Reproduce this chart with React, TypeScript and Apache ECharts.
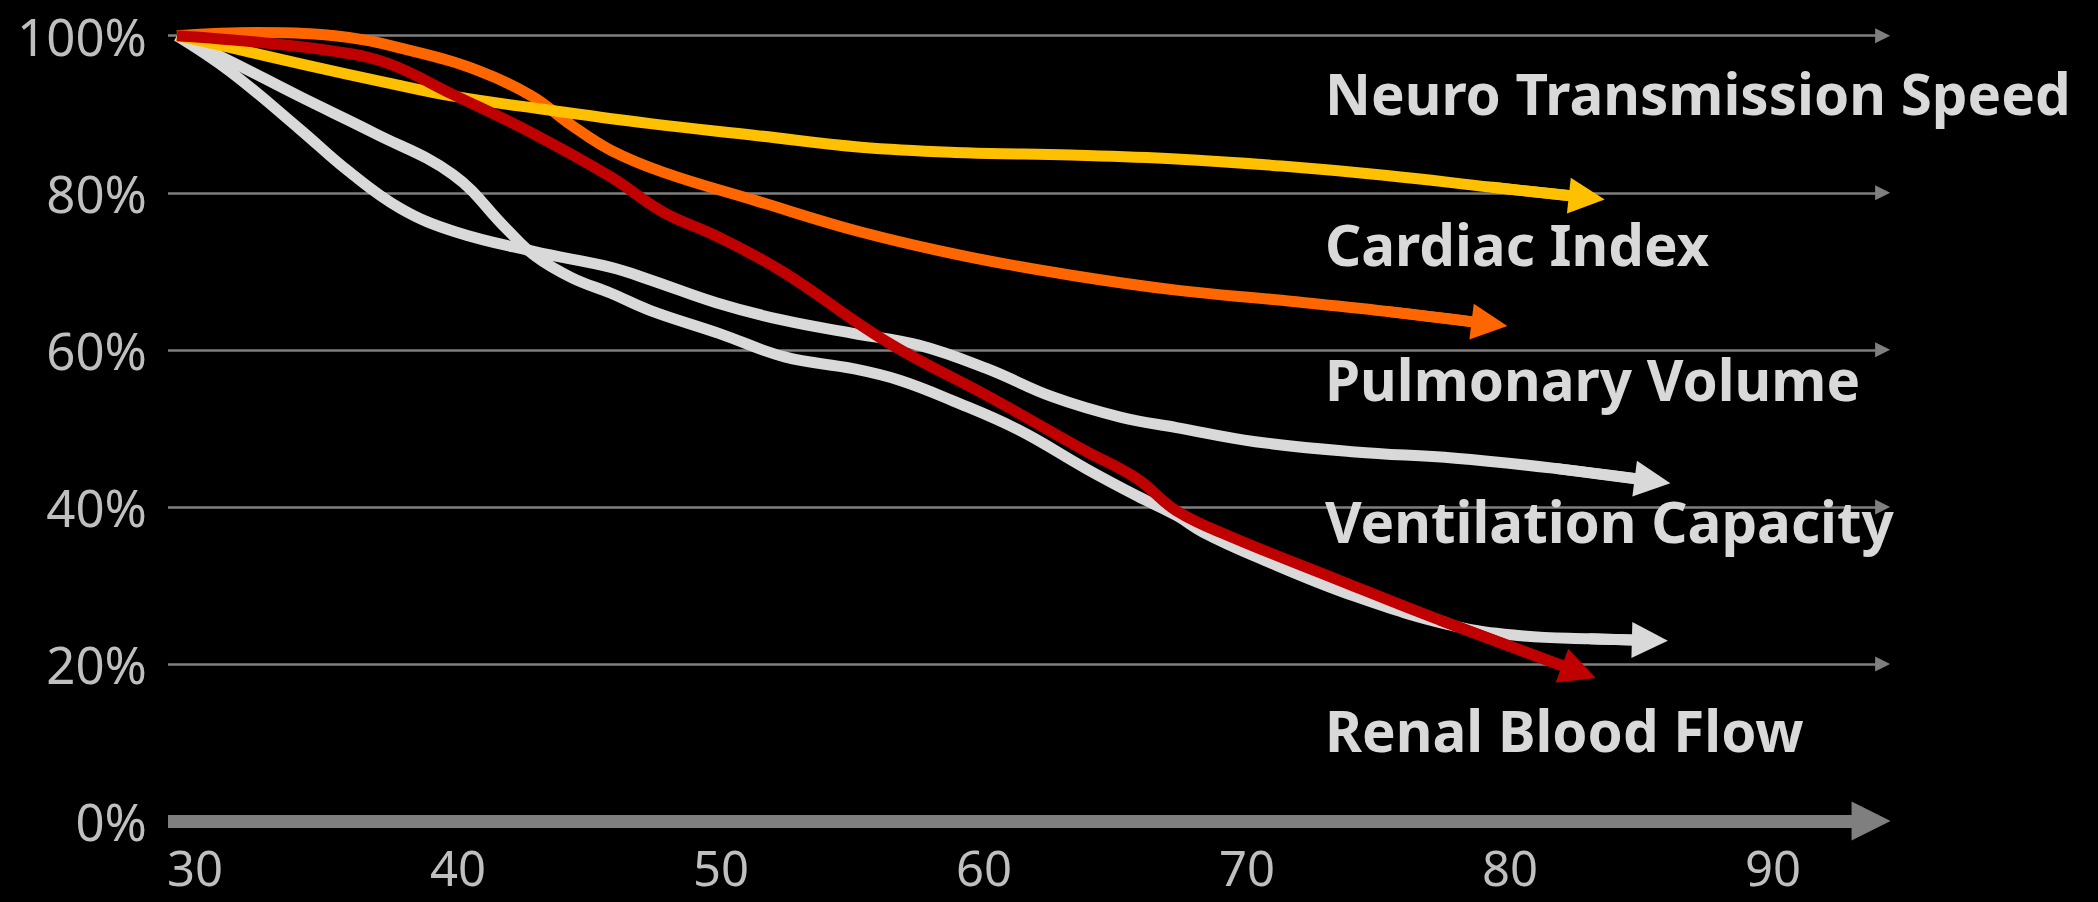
import React, { useEffect, useRef } from "react";
import * as echarts from "echarts";

// ---- data (age in years, value in % of age-30 level) ----
const xTickLabels = [30, 40, 50, 60, 70, 80, 90];
const yTickValues = [0, 20, 40, 60, 80, 100];

const neuroAges = [30, 32, 35, 38, 40.5, 44, 48, 52, 56, 60, 64, 68, 72, 76, 80, 83.6];
const neuroValues = [100, 98.5, 96.2, 94.0, 92.3, 90.6, 88.8, 87.3, 85.8, 85.1, 84.8, 84.3, 83.4, 82.2, 80.7, 79.4];

const cardiacAges = [30, 33, 36, 39, 41.5, 43.5, 45, 46.5, 48.5, 52, 56, 60, 64, 68, 72, 76, 79.9];
const cardiacValues = [100, 100.4, 100, 98, 95.5, 92.3, 88.6, 85.4, 82.6, 79, 75, 71.9, 69.5, 67.6, 66.3, 64.9, 63.3];

const pulmonaryAges = [30, 32, 34.7, 36.5, 38.5, 40.6, 43.6, 46.5, 48, 50.5, 53, 55.7, 58.2, 60.8, 63.3, 65.9, 68, 71, 74.8, 78.6, 82.4, 86.1];
const pulmonaryValues = [100, 95.5, 88, 82.8, 78, 75.0, 72.5, 70.5, 68.9, 66.0, 63.8, 62.1, 60.6, 57.6, 54.0, 51.4, 50.1, 48.3, 47.0, 46.2, 44.9, 43.3];

const ventilationAges = [30, 32, 34.7, 37.5, 40.5, 42.5, 43.6, 45, 46.5, 48, 50.6, 53.1, 55.7, 57.5, 59.5, 62, 64.6, 66.5, 68, 69, 71, 74.8, 78.6, 81.1, 83.7, 86];
const ventilationValues = [100, 96.8, 92.2, 87.6, 82.3, 75.5, 72.0, 69.2, 67.2, 65.0, 62.1, 59.1, 57.6, 56.1, 53.5, 49.8, 44.8, 41.4, 38.9, 36.8, 33.7, 28.6, 24.8, 23.6, 23.2, 23.0];

const renalAges = [30, 33, 36, 38, 40.5, 43.5, 46.5, 48.5, 50.5, 53, 57, 61, 64.5, 66.5, 68, 70, 74, 78, 83.3];
const renalValues = [100, 99.2, 98, 96.5, 92.5, 87.6, 82, 77.5, 74.5, 70, 61, 53.8, 47.2, 43.6, 39.5, 36.3, 30.9, 25.6, 19.0];

const seriesNames = [
  "Neuro Transmission Speed",
  "Cardiac Index",
  "Pulmonary Volume",
  "Ventilation Capacity",
  "Renal Blood Flow",
];

// ---- layout / style ----
const X_MIN = 29.658;
const X_MAX = 95.13;
const GRID_END = 94.85; // small arrow centres of grid lines
const AXIS_END = 94.41; // big arrow centre of x axis
const FONT = "Noto Sans";

const zip = (xs: number[], ys: number[]) => xs.map((x, i) => [x, ys[i]]);

function curve(name: string, ages: number[], vals: number[], color: string, z: number) {
  const n = ages.length;
  return {
    name,
    type: "line",
    data: zip(ages, vals),
    smooth: 0.4,
    showSymbol: false,
    symbol: "none",
    clip: false,
    z,
    silent: true,
    lineStyle: { color, width: 11, cap: "butt", join: "round" },
    markLine: {
      silent: true,
      z,
      symbol: ["none", "triangle"],
      symbolSize: 36,
      label: { show: false },
      emphasis: { disabled: true },
      lineStyle: { color, width: 11, type: "solid", opacity: 1 },
      data: [[{ coord: [ages[n - 2], vals[n - 2]] }, { coord: [ages[n - 1], vals[n - 1]] }]],
    },
  };
}

const labelY = [93, 244, 379, 521, 730];

export default function App() {
  const ref = useRef<HTMLDivElement>(null);
  useEffect(() => {
    document.body.style.margin = "0";
    const chart = echarts.init(ref.current!, undefined, { renderer: "svg" });
    const option: any = {
      animation: false,
      backgroundColor: "#000000",
      grid: { left: 168, right: 208, top: 35.7, bottom: 81 },
      xAxis: {
        type: "value",
        min: X_MIN,
        max: X_MAX,
        axisLine: { show: false },
        axisTick: { show: false },
        splitLine: { show: false },
        axisLabel: {
          customValues: xTickLabels,
          color: "#bfbfbf",
          fontFamily: FONT,
          fontSize: 49,
          lineHeight: 30,
          margin: 31,
          padding: [0, 0, 0, 36],
        },
      },
      yAxis: {
        type: "value",
        min: 0,
        max: 100,
        interval: 20,
        axisLine: { show: false },
        axisTick: { show: false },
        splitLine: { show: false },
        axisLabel: {
          formatter: "{value}%",
          color: "#bfbfbf",
          fontFamily: FONT,
          fontSize: 51,
          margin: 21,
          padding: [0, 0, 18, 0],
        },
      },
      series: [
        {
          name: "grid",
          type: "line",
          data: [],
          z: 1,
          silent: true,
          markLine: {
            silent: true,
            z: 1,
            symbol: ["none", "triangle"],
            symbolSize: 15,
            label: { show: false },
            emphasis: { disabled: true },
            lineStyle: { color: "#7f7f7f", width: 2.5, type: "solid" },
            data: yTickValues
              .filter((v) => v > 0)
              .map((v) => [{ coord: [X_MIN, v] }, { coord: [GRID_END, v] }]),
          },
        },
        {
          name: "axis",
          type: "line",
          data: [],
          z: 1,
          silent: true,
          markLine: {
            silent: true,
            z: 1,
            symbol: ["none", "triangle"],
            symbolSize: 39,
            label: { show: false },
            emphasis: { disabled: true },
            lineStyle: { color: "#7f7f7f", width: 13, type: "solid" },
            data: [[{ coord: [X_MIN, 0] }, { coord: [AXIS_END, 0] }]],
          },
        },
        curve(seriesNames[2], pulmonaryAges, pulmonaryValues, "#d9d9d9", 2),
        curve(seriesNames[3], ventilationAges, ventilationValues, "#d9d9d9", 2),
        curve(seriesNames[1], cardiacAges, cardiacValues, "#ff6600", 3),
        curve(seriesNames[0], neuroAges, neuroValues, "#ffc000", 4),
        curve(seriesNames[4], renalAges, renalValues, "#c00000", 5),
      ],
      graphic: seriesNames.map((name, i) => ({
        type: "text",
        x: 1325,
        y: labelY[i],
        z: 10,
        silent: true,
        style: {
          text: name,
          fill: "#d9d9d9",
          fontFamily: FONT,
          fontWeight: "bold",
          fontSize: 56.5,
          align: "left",
          verticalAlign: "middle",
        },
      })),
    };
    chart.setOption(option);
    return () => chart.dispose();
  }, []);
  return <div ref={ref} style={{ width: 2098, height: 902, background: "#000" }} />;
}
